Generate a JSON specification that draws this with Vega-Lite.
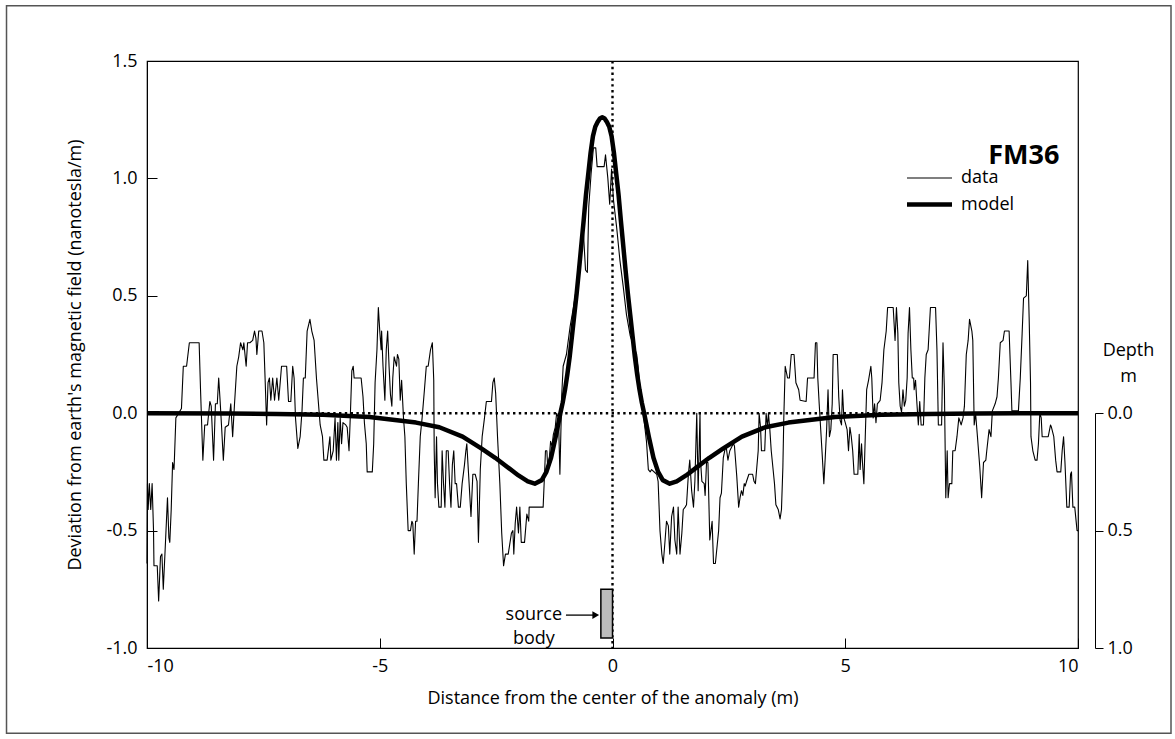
{
  "$schema": "https://vega.github.io/schema/vega-lite/v6.json",
  "width": 931,
  "height": 587,
  "autosize": {"type": "none"},
  "padding": {"left": 147, "top": 61, "right": 97, "bottom": 91},
  "background": "white",
  "config": {
    "font": "Open Sans",
    "view": {"stroke": "black", "strokeWidth": 1.2},
    "axis": {"grid": false, "domainColor": "black", "tickColor": "black", "labelColor": "black", "titleColor": "black", "labelFontSize": 18, "titleFontSize": 18, "titleFontWeight": "normal", "labelFont": "Open Sans", "titleFont": "Open Sans"},
    "legend": {"labelFont": "Open Sans"}
  },
  "data": {"values": [{}]},
  "datasets": {
    "body": [{"x0": -0.25, "x1": 0.0, "d0": 0.75, "d1": 0.957}],
    "lines": [
      {"x":-10.0,"v":-0.64,"s":"data"},{"x":-9.99,"v":-0.30,"s":"data"},{"x":-9.975,"v":-0.41,"s":"data"},{"x":-9.95,"v":-0.30,"s":"data"},{"x":-9.92,"v":-0.41,"s":"data"},{"x":-9.89,"v":-0.30,"s":"data"},{"x":-9.86,"v":-0.50,"s":"data"},{"x":-9.85,"v":-0.65,"s":"data"},{"x":-9.78,"v":-0.65,"s":"data"},{"x":-9.75,"v":-0.80,"s":"data"},{"x":-9.71,"v":-0.61,"s":"data"},{"x":-9.68,"v":-0.60,"s":"data"},{"x":-9.65,"v":-0.75,"s":"data"},{"x":-9.61,"v":-0.58,"s":"data"},{"x":-9.56,"v":-0.36,"s":"data"},{"x":-9.53,"v":-0.53,"s":"data"},{"x":-9.51,"v":-0.55,"s":"data"},{"x":-9.48,"v":-0.41,"s":"data"},{"x":-9.45,"v":-0.21,"s":"data"},{"x":-9.42,"v":-0.24,"s":"data"},{"x":-9.41,"v":-0.19,"s":"data"},{"x":-9.38,"v":-0.02,"s":"data"},{"x":-9.26,"v":0.02,"s":"data"},{"x":-9.22,"v":0.20,"s":"data"},{"x":-9.15,"v":0.20,"s":"data"},{"x":-9.09,"v":0.30,"s":"data"},{"x":-8.88,"v":0.30,"s":"data"},{"x":-8.85,"v":0.10,"s":"data"},{"x":-8.80,"v":-0.20,"s":"data"},{"x":-8.76,"v":-0.05,"s":"data"},{"x":-8.70,"v":-0.05,"s":"data"},{"x":-8.65,"v":0.05,"s":"data"},{"x":-8.62,"v":0.03,"s":"data"},{"x":-8.57,"v":-0.20,"s":"data"},{"x":-8.53,"v":0.04,"s":"data"},{"x":-8.49,"v":0.04,"s":"data"},{"x":-8.46,"v":0.15,"s":"data"},{"x":-8.43,"v":0.055,"s":"data"},{"x":-8.40,"v":-0.05,"s":"data"},{"x":-8.36,"v":-0.20,"s":"data"},{"x":-8.32,"v":-0.06,"s":"data"},{"x":-8.25,"v":-0.05,"s":"data"},{"x":-8.20,"v":0.04,"s":"data"},{"x":-8.16,"v":-0.10,"s":"data"},{"x":-8.12,"v":0.04,"s":"data"},{"x":-8.07,"v":0.20,"s":"data"},{"x":-8.03,"v":0.24,"s":"data"},{"x":-7.99,"v":0.30,"s":"data"},{"x":-7.94,"v":0.27,"s":"data"},{"x":-7.92,"v":0.30,"s":"data"},{"x":-7.87,"v":0.20,"s":"data"},{"x":-7.84,"v":0.30,"s":"data"},{"x":-7.79,"v":0.30,"s":"data"},{"x":-7.73,"v":0.31,"s":"data"},{"x":-7.69,"v":0.35,"s":"data"},{"x":-7.66,"v":0.32,"s":"data"},{"x":-7.64,"v":0.25,"s":"data"},{"x":-7.60,"v":0.35,"s":"data"},{"x":-7.53,"v":0.35,"s":"data"},{"x":-7.49,"v":0.30,"s":"data"},{"x":-7.46,"v":0.13,"s":"data"},{"x":-7.43,"v":-0.05,"s":"data"},{"x":-7.40,"v":0.13,"s":"data"},{"x":-7.37,"v":0.15,"s":"data"},{"x":-7.34,"v":0.055,"s":"data"},{"x":-7.30,"v":0.15,"s":"data"},{"x":-7.26,"v":0.055,"s":"data"},{"x":-7.21,"v":0.15,"s":"data"},{"x":-7.17,"v":0.055,"s":"data"},{"x":-7.11,"v":0.20,"s":"data"},{"x":-7.00,"v":0.20,"s":"data"},{"x":-6.96,"v":0.05,"s":"data"},{"x":-6.91,"v":0.05,"s":"data"},{"x":-6.87,"v":0.20,"s":"data"},{"x":-6.84,"v":0.15,"s":"data"},{"x":-6.81,"v":-0.02,"s":"data"},{"x":-6.76,"v":-0.15,"s":"data"},{"x":-6.71,"v":-0.10,"s":"data"},{"x":-6.67,"v":0.01,"s":"data"},{"x":-6.64,"v":0.15,"s":"data"},{"x":-6.60,"v":0.15,"s":"data"},{"x":-6.56,"v":0.35,"s":"data"},{"x":-6.50,"v":0.40,"s":"data"},{"x":-6.46,"v":0.35,"s":"data"},{"x":-6.41,"v":0.31,"s":"data"},{"x":-6.36,"v":0.15,"s":"data"},{"x":-6.28,"v":-0.05,"s":"data"},{"x":-6.23,"v":-0.10,"s":"data"},{"x":-6.20,"v":-0.20,"s":"data"},{"x":-6.13,"v":-0.20,"s":"data"},{"x":-6.07,"v":-0.10,"s":"data"},
      {"x":-6.05,"v":-0.20,"s":"data"},{"x":-6.00,"v":-0.16,"s":"data"},{"x":-5.96,"v":-0.02,"s":"data"},{"x":-5.93,"v":-0.20,"s":"data"},{"x":-5.90,"v":-0.04,"s":"data"},{"x":-5.88,"v":-0.20,"s":"data"},{"x":-5.85,"v":-0.02,"s":"data"},{"x":-5.82,"v":-0.13,"s":"data"},{"x":-5.79,"v":-0.04,"s":"data"},{"x":-5.73,"v":-0.05,"s":"data"},{"x":-5.70,"v":-0.06,"s":"data"},{"x":-5.66,"v":-0.16,"s":"data"},{"x":-5.63,"v":0.0,"s":"data"},{"x":-5.60,"v":0.18,"s":"data"},{"x":-5.57,"v":0.20,"s":"data"},{"x":-5.55,"v":0.15,"s":"data"},{"x":-5.40,"v":0.15,"s":"data"},{"x":-5.36,"v":0.07,"s":"data"},{"x":-5.33,"v":-0.04,"s":"data"},{"x":-5.29,"v":-0.13,"s":"data"},{"x":-5.27,"v":-0.25,"s":"data"},{"x":-5.16,"v":-0.25,"s":"data"},{"x":-5.13,"v":-0.13,"s":"data"},{"x":-5.10,"v":0.13,"s":"data"},{"x":-5.06,"v":0.27,"s":"data"},{"x":-5.03,"v":0.45,"s":"data"},{"x":-5.00,"v":0.35,"s":"data"},{"x":-4.97,"v":0.27,"s":"data"},{"x":-4.96,"v":0.35,"s":"data"},{"x":-4.93,"v":0.20,"s":"data"},{"x":-4.89,"v":0.055,"s":"data"},{"x":-4.86,"v":0.27,"s":"data"},{"x":-4.83,"v":0.35,"s":"data"},{"x":-4.80,"v":0.20,"s":"data"},{"x":-4.77,"v":0.08,"s":"data"},{"x":-4.74,"v":0.03,"s":"data"},{"x":-4.72,"v":0.15,"s":"data"},{"x":-4.69,"v":0.24,"s":"data"},{"x":-4.64,"v":0.20,"s":"data"},{"x":-4.62,"v":0.25,"s":"data"},{"x":-4.59,"v":0.23,"s":"data"},{"x":-4.56,"v":0.055,"s":"data"},{"x":-4.53,"v":0.14,"s":"data"},{"x":-4.49,"v":-0.02,"s":"data"},{"x":-4.46,"v":-0.10,"s":"data"},{"x":-4.43,"v":-0.30,"s":"data"},{"x":-4.39,"v":-0.50,"s":"data"},{"x":-4.34,"v":-0.50,"s":"data"},{"x":-4.31,"v":-0.46,"s":"data"},{"x":-4.29,"v":-0.47,"s":"data"},{"x":-4.26,"v":-0.60,"s":"data"},{"x":-4.23,"v":-0.46,"s":"data"},{"x":-4.20,"v":-0.46,"s":"data"},{"x":-4.17,"v":-0.30,"s":"data"},{"x":-4.13,"v":-0.10,"s":"data"},{"x":-4.09,"v":-0.02,"s":"data"},{"x":-4.04,"v":0.10,"s":"data"},{"x":-4.00,"v":0.20,"s":"data"},{"x":-3.96,"v":0.20,"s":"data"},{"x":-3.91,"v":0.27,"s":"data"},{"x":-3.87,"v":0.30,"s":"data"},{"x":-3.84,"v":0.14,"s":"data"},{"x":-3.83,"v":-0.16,"s":"data"},{"x":-3.81,"v":-0.36,"s":"data"},{"x":-3.78,"v":-0.10,"s":"data"},{"x":-3.76,"v":-0.30,"s":"data"},{"x":-3.73,"v":-0.40,"s":"data"},{"x":-3.68,"v":-0.40,"s":"data"},{"x":-3.66,"v":-0.16,"s":"data"},{"x":-3.63,"v":-0.30,"s":"data"},{"x":-3.60,"v":-0.40,"s":"data"},{"x":-3.57,"v":-0.16,"s":"data"},{"x":-3.53,"v":-0.16,"s":"data"},{"x":-3.50,"v":-0.30,"s":"data"},{"x":-3.47,"v":-0.40,"s":"data"},{"x":-3.44,"v":-0.22,"s":"data"},{"x":-3.41,"v":-0.16,"s":"data"},{"x":-3.38,"v":-0.30,"s":"data"},{"x":-3.35,"v":-0.30,"s":"data"},{"x":-3.31,"v":-0.40,"s":"data"},{"x":-3.27,"v":-0.40,"s":"data"},{"x":-3.23,"v":-0.30,"s":"data"},{"x":-3.18,"v":-0.22,"s":"data"},{"x":-3.15,"v":-0.16,"s":"data"},{"x":-3.13,"v":-0.13,"s":"data"},{"x":-3.08,"v":-0.30,"s":"data"},{"x":-3.04,"v":-0.44,"s":"data"},{"x":-3.00,"v":-0.26,"s":"data"},{"x":-2.95,"v":-0.26,"s":"data"},{"x":-2.91,"v":-0.29,"s":"data"},{"x":-2.88,"v":-0.55,"s":"data"},{"x":-2.84,"v":-0.24,"s":"data"},{"x":-2.80,"v":-0.10,"s":"data"},{"x":-2.75,"v":-0.02,"s":"data"},{"x":-2.71,"v":0.05,"s":"data"},{"x":-2.60,"v":0.05,"s":"data"},{"x":-2.57,"v":0.13,"s":"data"},{"x":-2.54,"v":0.15,"s":"data"},{"x":-2.51,"v":0.085,"s":"data"},{"x":-2.47,"v":-0.10,"s":"data"},{"x":-2.42,"v":-0.30,"s":"data"},{"x":-2.38,"v":-0.51,"s":"data"},{"x":-2.34,"v":-0.65,"s":"data"},{"x":-2.30,"v":-0.60,"s":"data"},{"x":-2.24,"v":-0.60,"s":"data"},
      {"x":-2.17,"v":-0.51,"s":"data"},{"x":-2.14,"v":-0.50,"s":"data"},{"x":-2.12,"v":-0.60,"s":"data"},{"x":-2.09,"v":-0.47,"s":"data"},{"x":-2.06,"v":-0.40,"s":"data"},{"x":-2.02,"v":-0.51,"s":"data"},{"x":-1.99,"v":-0.40,"s":"data"},{"x":-1.96,"v":-0.55,"s":"data"},{"x":-1.89,"v":-0.55,"s":"data"},{"x":-1.84,"v":-0.43,"s":"data"},{"x":-1.80,"v":-0.46,"s":"data"},{"x":-1.79,"v":-0.40,"s":"data"},{"x":-1.49,"v":-0.40,"s":"data"},{"x":-1.46,"v":-0.26,"s":"data"},{"x":-1.44,"v":-0.16,"s":"data"},{"x":-1.41,"v":-0.16,"s":"data"},{"x":-1.39,"v":-0.24,"s":"data"},{"x":-1.36,"v":-0.20,"s":"data"},{"x":-1.33,"v":-0.12,"s":"data"},{"x":-1.30,"v":-0.14,"s":"data"},{"x":-1.27,"v":-0.09,"s":"data"},{"x":-1.23,"v":-0.06,"s":"data"},{"x":-1.20,"v":0.0,"s":"data"},{"x":-1.16,"v":-0.02,"s":"data"},{"x":-1.13,"v":-0.26,"s":"data"},{"x":-1.11,"v":-0.09,"s":"data"},{"x":-1.09,"v":0.08,"s":"data"},{"x":-1.06,"v":0.20,"s":"data"},{"x":-0.99,"v":0.25,"s":"data"},{"x":-0.91,"v":0.37,"s":"data"},{"x":-0.84,"v":0.45,"s":"data"},{"x":-0.77,"v":0.54,"s":"data"},{"x":-0.70,"v":0.68,"s":"data"},{"x":-0.63,"v":0.79,"s":"data"},{"x":-0.58,"v":0.61,"s":"data"},{"x":-0.54,"v":0.60,"s":"data"},{"x":-0.51,"v":0.88,"s":"data"},{"x":-0.46,"v":1.02,"s":"data"},{"x":-0.41,"v":1.13,"s":"data"},{"x":-0.36,"v":1.13,"s":"data"},{"x":-0.33,"v":1.05,"s":"data"},{"x":-0.18,"v":1.05,"s":"data"},{"x":-0.15,"v":1.10,"s":"data"},{"x":-0.10,"v":1.00,"s":"data"},{"x":-0.06,"v":0.89,"s":"data"},{"x":-0.02,"v":1.04,"s":"data"},{"x":0.02,"v":0.91,"s":"data"},{"x":0.09,"v":0.79,"s":"data"},{"x":0.16,"v":0.65,"s":"data"},{"x":0.23,"v":0.54,"s":"data"},{"x":0.30,"v":0.42,"s":"data"},{"x":0.38,"v":0.33,"s":"data"},{"x":0.52,"v":0.25,"s":"data"},{"x":0.55,"v":0.20,"s":"data"},{"x":0.59,"v":0.11,"s":"data"},{"x":0.66,"v":0.0,"s":"data"},{"x":0.73,"v":-0.12,"s":"data"},{"x":0.77,"v":-0.24,"s":"data"},{"x":0.81,"v":-0.25,"s":"data"},{"x":0.84,"v":-0.24,"s":"data"},{"x":0.95,"v":-0.26,"s":"data"},{"x":0.98,"v":-0.29,"s":"data"},{"x":1.02,"v":-0.50,"s":"data"},{"x":1.06,"v":-0.60,"s":"data"},{"x":1.09,"v":-0.64,"s":"data"},{"x":1.13,"v":-0.54,"s":"data"},{"x":1.16,"v":-0.46,"s":"data"},{"x":1.20,"v":-0.48,"s":"data"},{"x":1.23,"v":-0.60,"s":"data"},{"x":1.27,"v":-0.44,"s":"data"},{"x":1.31,"v":-0.40,"s":"data"},{"x":1.34,"v":-0.54,"s":"data"},{"x":1.38,"v":-0.60,"s":"data"},{"x":1.41,"v":-0.40,"s":"data"},{"x":1.45,"v":-0.60,"s":"data"},{"x":1.49,"v":-0.51,"s":"data"},{"x":1.52,"v":-0.41,"s":"data"},{"x":1.56,"v":-0.40,"s":"data"},{"x":1.59,"v":-0.39,"s":"data"},{"x":1.63,"v":-0.26,"s":"data"},{"x":1.66,"v":-0.20,"s":"data"},{"x":1.70,"v":-0.33,"s":"data"},{"x":1.74,"v":-0.40,"s":"data"},{"x":1.77,"v":-0.29,"s":"data"},{"x":1.81,"v":0.0,"s":"data"},{"x":1.84,"v":-0.33,"s":"data"},{"x":1.88,"v":0.0,"s":"data"},
      {"x":1.89,"v":-0.20,"s":"data"},{"x":1.92,"v":-0.29,"s":"data"},{"x":1.97,"v":-0.30,"s":"data"},{"x":1.99,"v":-0.35,"s":"data"},{"x":2.02,"v":-0.21,"s":"data"},{"x":2.05,"v":-0.21,"s":"data"},{"x":2.09,"v":-0.54,"s":"data"},{"x":2.14,"v":-0.46,"s":"data"},{"x":2.17,"v":-0.64,"s":"data"},{"x":2.21,"v":-0.64,"s":"data"},{"x":2.25,"v":-0.56,"s":"data"},{"x":2.28,"v":-0.50,"s":"data"},{"x":2.31,"v":-0.36,"s":"data"},{"x":2.34,"v":-0.34,"s":"data"},{"x":2.38,"v":-0.19,"s":"data"},{"x":2.41,"v":-0.16,"s":"data"},{"x":2.44,"v":-0.14,"s":"data"},{"x":2.48,"v":-0.20,"s":"data"},{"x":2.52,"v":-0.16,"s":"data"},{"x":2.57,"v":-0.14,"s":"data"},{"x":2.60,"v":-0.13,"s":"data"},{"x":2.62,"v":-0.14,"s":"data"},{"x":2.67,"v":-0.27,"s":"data"},{"x":2.71,"v":-0.40,"s":"data"},{"x":2.74,"v":-0.36,"s":"data"},{"x":2.77,"v":-0.33,"s":"data"},{"x":2.80,"v":-0.35,"s":"data"},{"x":2.83,"v":-0.30,"s":"data"},{"x":2.85,"v":-0.31,"s":"data"},{"x":2.88,"v":-0.29,"s":"data"},{"x":2.93,"v":-0.26,"s":"data"},{"x":3.01,"v":-0.26,"s":"data"},{"x":3.04,"v":-0.29,"s":"data"},{"x":3.07,"v":-0.30,"s":"data"},{"x":3.10,"v":-0.23,"s":"data"},{"x":3.13,"v":-0.16,"s":"data"},{"x":3.15,"v":0.0,"s":"data"},{"x":3.18,"v":-0.06,"s":"data"},{"x":3.20,"v":-0.16,"s":"data"},{"x":3.27,"v":-0.16,"s":"data"},{"x":3.30,"v":0.0,"s":"data"},{"x":3.33,"v":-0.06,"s":"data"},{"x":3.35,"v":0.0,"s":"data"},{"x":3.38,"v":-0.07,"s":"data"},{"x":3.41,"v":-0.16,"s":"data"},{"x":3.46,"v":-0.26,"s":"data"},{"x":3.48,"v":-0.30,"s":"data"},{"x":3.51,"v":-0.39,"s":"data"},{"x":3.56,"v":-0.41,"s":"data"},{"x":3.60,"v":-0.45,"s":"data"},{"x":3.63,"v":-0.41,"s":"data"},{"x":3.66,"v":-0.23,"s":"data"},{"x":3.68,"v":-0.02,"s":"data"},{"x":3.71,"v":0.20,"s":"data"},{"x":3.76,"v":0.15,"s":"data"},{"x":3.80,"v":0.15,"s":"data"},{"x":3.84,"v":0.25,"s":"data"},{"x":3.90,"v":0.25,"s":"data"},{"x":3.94,"v":0.13,"s":"data"},{"x":4.00,"v":0.10,"s":"data"},{"x":4.03,"v":0.055,"s":"data"},{"x":4.16,"v":0.05,"s":"data"},{"x":4.19,"v":0.15,"s":"data"},{"x":4.33,"v":0.15,"s":"data"},{"x":4.36,"v":0.30,"s":"data"},{"x":4.39,"v":0.30,"s":"data"},{"x":4.41,"v":0.15,"s":"data"},{"x":4.44,"v":0.04,"s":"data"},{"x":4.47,"v":-0.06,"s":"data"},{"x":4.50,"v":-0.16,"s":"data"},{"x":4.54,"v":-0.30,"s":"data"},{"x":4.57,"v":-0.19,"s":"data"},{"x":4.60,"v":-0.07,"s":"data"},{"x":4.63,"v":0.10,"s":"data"},{"x":4.66,"v":-0.10,"s":"data"},{"x":4.69,"v":-0.07,"s":"data"},{"x":4.72,"v":0.04,"s":"data"},{"x":4.74,"v":0.25,"s":"data"},{"x":4.83,"v":0.25,"s":"data"},{"x":4.86,"v":0.07,"s":"data"},{"x":4.89,"v":-0.03,"s":"data"},{"x":4.92,"v":-0.05,"s":"data"},{"x":4.94,"v":0.10,"s":"data"},{"x":4.97,"v":-0.02,"s":"data"},{"x":5.00,"v":-0.04,"s":"data"},{"x":5.04,"v":-0.07,"s":"data"},{"x":5.07,"v":-0.16,"s":"data"},{"x":5.10,"v":-0.06,"s":"data"},{"x":5.13,"v":-0.10,"s":"data"},{"x":5.16,"v":-0.16,"s":"data"},{"x":5.19,"v":-0.26,"s":"data"},{"x":5.27,"v":-0.26,"s":"data"},{"x":5.30,"v":-0.09,"s":"data"},{"x":5.32,"v":-0.24,"s":"data"},{"x":5.35,"v":-0.13,"s":"data"},{"x":5.37,"v":-0.21,"s":"data"},{"x":5.40,"v":-0.30,"s":"data"},{"x":5.43,"v":-0.10,"s":"data"},{"x":5.46,"v":0.10,"s":"data"},{"x":5.50,"v":0.14,"s":"data"},{"x":5.55,"v":0.20,"s":"data"},{"x":5.57,"v":0.15,"s":"data"},{"x":5.60,"v":-0.02,"s":"data"},{"x":5.63,"v":0.04,"s":"data"},{"x":5.66,"v":-0.04,"s":"data"},{"x":5.69,"v":0.04,"s":"data"},{"x":5.75,"v":0.055,"s":"data"},{"x":5.79,"v":0.13,"s":"data"},{"x":5.83,"v":0.27,"s":"data"},{"x":5.88,"v":0.35,"s":"data"},{"x":5.91,"v":0.45,"s":"data"},
      {"x":6.03,"v":0.45,"s":"data"},{"x":6.07,"v":0.31,"s":"data"},{"x":6.10,"v":0.45,"s":"data"},{"x":6.13,"v":0.34,"s":"data"},{"x":6.15,"v":0.13,"s":"data"},{"x":6.18,"v":0.03,"s":"data"},{"x":6.21,"v":0.005,"s":"data"},{"x":6.24,"v":0.10,"s":"data"},{"x":6.27,"v":0.03,"s":"data"},{"x":6.30,"v":0.055,"s":"data"},{"x":6.33,"v":0.15,"s":"data"},{"x":6.35,"v":0.34,"s":"data"},{"x":6.38,"v":0.45,"s":"data"},{"x":6.41,"v":0.27,"s":"data"},{"x":6.44,"v":0.15,"s":"data"},{"x":6.47,"v":0.15,"s":"data"},{"x":6.48,"v":0.10,"s":"data"},{"x":6.51,"v":0.14,"s":"data"},{"x":6.54,"v":0.04,"s":"data"},{"x":6.57,"v":-0.05,"s":"data"},{"x":6.60,"v":0.05,"s":"data"},{"x":6.63,"v":-0.05,"s":"data"},{"x":6.68,"v":-0.05,"s":"data"},{"x":6.71,"v":0.15,"s":"data"},{"x":6.74,"v":0.25,"s":"data"},{"x":6.78,"v":0.27,"s":"data"},{"x":6.83,"v":0.45,"s":"data"},{"x":6.94,"v":0.45,"s":"data"},{"x":6.97,"v":0.27,"s":"data"},{"x":7.00,"v":-0.05,"s":"data"},{"x":7.07,"v":-0.05,"s":"data"},{"x":7.10,"v":0.30,"s":"data"},{"x":7.13,"v":0.10,"s":"data"},{"x":7.16,"v":-0.36,"s":"data"},{"x":7.19,"v":-0.16,"s":"data"},{"x":7.21,"v":-0.36,"s":"data"},{"x":7.24,"v":-0.30,"s":"data"},{"x":7.29,"v":-0.30,"s":"data"},{"x":7.31,"v":-0.16,"s":"data"},{"x":7.36,"v":-0.16,"s":"data"},{"x":7.40,"v":-0.10,"s":"data"},{"x":7.44,"v":-0.02,"s":"data"},{"x":7.49,"v":-0.05,"s":"data"},{"x":7.53,"v":-0.02,"s":"data"},{"x":7.56,"v":0.03,"s":"data"},{"x":7.60,"v":0.25,"s":"data"},{"x":7.64,"v":0.31,"s":"data"},{"x":7.67,"v":0.40,"s":"data"},{"x":7.72,"v":0.35,"s":"data"},{"x":7.74,"v":0.31,"s":"data"},{"x":7.77,"v":-0.05,"s":"data"},{"x":7.80,"v":0.0,"s":"data"},{"x":7.84,"v":-0.10,"s":"data"},{"x":7.89,"v":-0.23,"s":"data"},{"x":7.93,"v":-0.36,"s":"data"},{"x":7.97,"v":-0.21,"s":"data"},{"x":8.02,"v":-0.20,"s":"data"},{"x":8.04,"v":-0.16,"s":"data"},{"x":8.09,"v":-0.07,"s":"data"},{"x":8.13,"v":-0.10,"s":"data"},{"x":8.16,"v":0.01,"s":"data"},{"x":8.22,"v":0.04,"s":"data"},{"x":8.26,"v":0.07,"s":"data"},{"x":8.29,"v":0.15,"s":"data"},{"x":8.33,"v":0.30,"s":"data"},{"x":8.39,"v":0.31,"s":"data"},{"x":8.42,"v":0.35,"s":"data"},{"x":8.52,"v":0.35,"s":"data"},{"x":8.56,"v":0.13,"s":"data"},{"x":8.58,"v":0.01,"s":"data"},{"x":8.72,"v":0.01,"s":"data"},{"x":8.76,"v":0.15,"s":"data"},{"x":8.80,"v":0.34,"s":"data"},{"x":8.83,"v":0.49,"s":"data"},{"x":8.89,"v":0.50,"s":"data"},{"x":8.92,"v":0.65,"s":"data"},{"x":8.95,"v":0.41,"s":"data"},{"x":8.98,"v":0.13,"s":"data"},{"x":8.99,"v":-0.10,"s":"data"},{"x":9.03,"v":-0.16,"s":"data"},{"x":9.08,"v":-0.20,"s":"data"},{"x":9.12,"v":-0.20,"s":"data"},{"x":9.15,"v":-0.13,"s":"data"},{"x":9.18,"v":0.0,"s":"data"},{"x":9.21,"v":-0.02,"s":"data"},{"x":9.23,"v":-0.10,"s":"data"},{"x":9.36,"v":-0.10,"s":"data"},{"x":9.41,"v":-0.05,"s":"data"},{"x":9.43,"v":-0.06,"s":"data"},{"x":9.48,"v":-0.10,"s":"data"},{"x":9.52,"v":-0.20,"s":"data"},{"x":9.55,"v":-0.25,"s":"data"},{"x":9.63,"v":-0.25,"s":"data"},{"x":9.66,"v":-0.16,"s":"data"},{"x":9.69,"v":-0.10,"s":"data"},{"x":9.72,"v":-0.21,"s":"data"},{"x":9.76,"v":-0.40,"s":"data"},{"x":9.81,"v":-0.40,"s":"data"},{"x":9.84,"v":-0.26,"s":"data"},{"x":9.86,"v":-0.25,"s":"data"},{"x":9.89,"v":-0.40,"s":"data"},{"x":9.93,"v":-0.40,"s":"data"},{"x":9.98,"v":-0.50,"s":"data"},{"x":10.0,"v":-0.50,"s":"data"},
      {"x":-10.0,"v":0.0,"s":"model"},{"x":-8.22,"v":-0.001,"s":"model"},{"x":-7.22,"v":-0.003,"s":"model"},{"x":-6.22,"v":-0.007,"s":"model"},{"x":-5.22,"v":-0.016,"s":"model"},{"x":-4.22,"v":-0.04,"s":"model"},{"x":-3.72,"v":-0.06,"s":"model"},{"x":-3.22,"v":-0.10,"s":"model"},{"x":-2.82,"v":-0.15,"s":"model"},{"x":-2.52,"v":-0.19,"s":"model"},{"x":-2.22,"v":-0.235,"s":"model"},{"x":-2.02,"v":-0.265,"s":"model"},{"x":-1.82,"v":-0.29,"s":"model"},{"x":-1.67,"v":-0.30,"s":"model"},{"x":-1.52,"v":-0.285,"s":"model"},{"x":-1.42,"v":-0.25,"s":"model"},{"x":-1.32,"v":-0.19,"s":"model"},{"x":-1.22,"v":-0.10,"s":"model"},{"x":-1.17,"v":-0.05,"s":"model"},{"x":-1.12,"v":0.0,"s":"model"},{"x":-1.07,"v":0.045,"s":"model"},{"x":-1.02,"v":0.10,"s":"model"},{"x":-0.97,"v":0.165,"s":"model"},{"x":-0.92,"v":0.24,"s":"model"},{"x":-0.87,"v":0.33,"s":"model"},{"x":-0.82,"v":0.42,"s":"model"},{"x":-0.77,"v":0.51,"s":"model"},{"x":-0.72,"v":0.61,"s":"model"},{"x":-0.67,"v":0.715,"s":"model"},{"x":-0.62,"v":0.82,"s":"model"},{"x":-0.57,"v":0.93,"s":"model"},{"x":-0.52,"v":1.02,"s":"model"},{"x":-0.47,"v":1.11,"s":"model"},{"x":-0.42,"v":1.18,"s":"model"},{"x":-0.37,"v":1.22,"s":"model"},{"x":-0.32,"v":1.24,"s":"model"},{"x":-0.27,"v":1.255,"s":"model"},{"x":-0.22,"v":1.26,"s":"model"},{"x":-0.17,"v":1.255,"s":"model"},{"x":-0.12,"v":1.24,"s":"model"},{"x":-0.07,"v":1.22,"s":"model"},{"x":-0.02,"v":1.18,"s":"model"},{"x":0.03,"v":1.11,"s":"model"},{"x":0.08,"v":1.02,"s":"model"},{"x":0.13,"v":0.93,"s":"model"},{"x":0.18,"v":0.82,"s":"model"},{"x":0.23,"v":0.715,"s":"model"},{"x":0.28,"v":0.61,"s":"model"},{"x":0.33,"v":0.51,"s":"model"},{"x":0.38,"v":0.42,"s":"model"},{"x":0.43,"v":0.33,"s":"model"},{"x":0.48,"v":0.24,"s":"model"},{"x":0.53,"v":0.165,"s":"model"},{"x":0.58,"v":0.10,"s":"model"},{"x":0.63,"v":0.045,"s":"model"},{"x":0.68,"v":0.0,"s":"model"},{"x":0.73,"v":-0.05,"s":"model"},{"x":0.78,"v":-0.10,"s":"model"},{"x":0.88,"v":-0.19,"s":"model"},{"x":0.98,"v":-0.25,"s":"model"},{"x":1.08,"v":-0.285,"s":"model"},{"x":1.23,"v":-0.30,"s":"model"},{"x":1.38,"v":-0.29,"s":"model"},{"x":1.58,"v":-0.265,"s":"model"},{"x":1.78,"v":-0.235,"s":"model"},{"x":2.08,"v":-0.19,"s":"model"},{"x":2.38,"v":-0.15,"s":"model"},{"x":2.78,"v":-0.10,"s":"model"},{"x":3.28,"v":-0.06,"s":"model"},{"x":3.78,"v":-0.04,"s":"model"},{"x":4.78,"v":-0.016,"s":"model"},{"x":5.78,"v":-0.007,"s":"model"},{"x":6.78,"v":-0.003,"s":"model"},{"x":7.78,"v":-0.001,"s":"model"},{"x":10.0,"v":0.0,"s":"model"}
    ]
  },
  "layer": [
    {
      "layer": [
        {
          "mark": {"type": "rect", "fill": null, "stroke": "#555555", "strokeWidth": 1.5, "clip": false},
          "encoding": {
            "x": {"datum": -13.018, "type": "quantitative", "scale": {"domain": [-10, 10]}},
            "x2": {"datum": 11.998},
            "y": {"datum": 1.7355, "type": "quantitative", "scale": {"domain": [-1, 1.5]}},
            "y2": {"datum": -1.3629}
          }
        },
        {
          "mark": {"type": "rule", "strokeDash": [2.4, 3.4], "strokeWidth": 2.4, "color": "black"},
          "encoding": {"y": {"datum": 0, "type": "quantitative", "scale": {"domain": [-1, 1.5]}}}
        },
        {
          "mark": {"type": "rule", "strokeDash": [2.4, 3.4], "strokeWidth": 2.4, "color": "black"},
          "encoding": {"x": {"datum": 0, "type": "quantitative", "scale": {"domain": [-10, 10]}}}
        },
        {
          "data": {"name": "lines"},
          "mark": {"type": "line", "color": "black", "strokeJoin": "round"},
          "encoding": {
            "x": {"field": "x", "type": "quantitative", "scale": {"domain": [-10, 10]},
              "axis": {"title": "Distance from the center of the anomaly (m)", "values": [-10, -5, 0, 5, 10], "tickSize": -10, "labelPadding": 19, "titlePadding": 14,
                "labelExpr": "datum.value < 0 ? '-' + format(-datum.value, 'd') : format(datum.value, 'd')"}},
            "y": {"field": "v", "type": "quantitative", "scale": {"domain": [-1, 1.5]},
              "axis": {"title": "Deviation from earth's magnetic field (nanotesla/m)", "values": [-1, -0.5, 0, 0.5, 1, 1.5], "tickSize": -10, "labelPadding": 20, "titlePadding": 21,
                "labelExpr": "datum.value < 0 ? '-' + format(-datum.value, '.1f') : format(datum.value, '.1f')"}},
            "strokeWidth": {"field": "s", "type": "nominal", "scale": {"domain": ["data", "model"], "range": [1.1, 4.5]},
              "legend": {"orient": "none", "legendX": 771, "legendY": 107, "title": null, "padding": 0, "symbolType": "M-2.5,0H2.5", "symbolSize": 324, "symbolStrokeColor": "black", "labelFontSize": 18, "labelOffset": 20, "rowPadding": 6, "labelColor": "black"}}
          }
        },
        {
          "mark": {"type": "text", "text": "FM36", "fontSize": 27, "fontWeight": "bold", "align": "right", "baseline": "alphabetic", "color": "black"},
          "encoding": {
            "x": {"datum": 9.6, "type": "quantitative", "scale": {"domain": [-10, 10]}},
            "y": {"datum": 1.06, "type": "quantitative", "scale": {"domain": [-1, 1.5]}}
          }
        }
      ]
    },
    {
      "layer": [
        {
          "data": {"name": "body"},
          "mark": {"type": "rect", "fill": "#bcbcbc", "stroke": "black", "strokeWidth": 1.5},
          "encoding": {
            "x": {"field": "x0", "type": "quantitative", "scale": {"domain": [-10, 10]}},
            "x2": {"field": "x1"},
            "y": {"field": "d0", "type": "quantitative", "scale": {"domain": [0, 1], "range": [352, 587]},
              "axis": {"orient": "right", "values": [0, 0.5, 1], "offset": 17, "tickSize": 8, "labelPadding": 4, "domain": true,
                "labelExpr": "format(datum.value, '.1f')",
                "title": ["Depth", "m"], "titleAngle": 0, "titleAlign": "center", "titleBaseline": "alphabetic", "titleX": 33, "titleY": 294, "titleLineHeight": 26}},
            "y2": {"field": "d1"}
          }
        },
        {
          "mark": {"type": "rule", "color": "black", "strokeWidth": 1.3},
          "encoding": {
            "x": {"datum": -1.0, "type": "quantitative"},
            "x2": {"datum": -0.36},
            "y": {"datum": 0.86, "type": "quantitative"}
          }
        },
        {
          "mark": {"type": "point", "shape": "triangle-right", "filled": true, "color": "black", "size": 60, "opacity": 1},
          "encoding": {
            "x": {"datum": -0.36, "type": "quantitative"},
            "y": {"datum": 0.86, "type": "quantitative"}
          }
        },
        {
          "mark": {"type": "text", "text": "source\nbody", "lineBreak": "\n", "fontSize": 18, "align": "center", "baseline": "middle", "lineHeight": 24, "color": "black"},
          "encoding": {
            "x": {"datum": -1.69, "type": "quantitative"},
            "y": {"datum": 0.86, "type": "quantitative"}
          }
        }
      ]
    }
  ],
  "resolve": {"scale": {"y": "independent"}, "axis": {"y": "independent"}}
}
